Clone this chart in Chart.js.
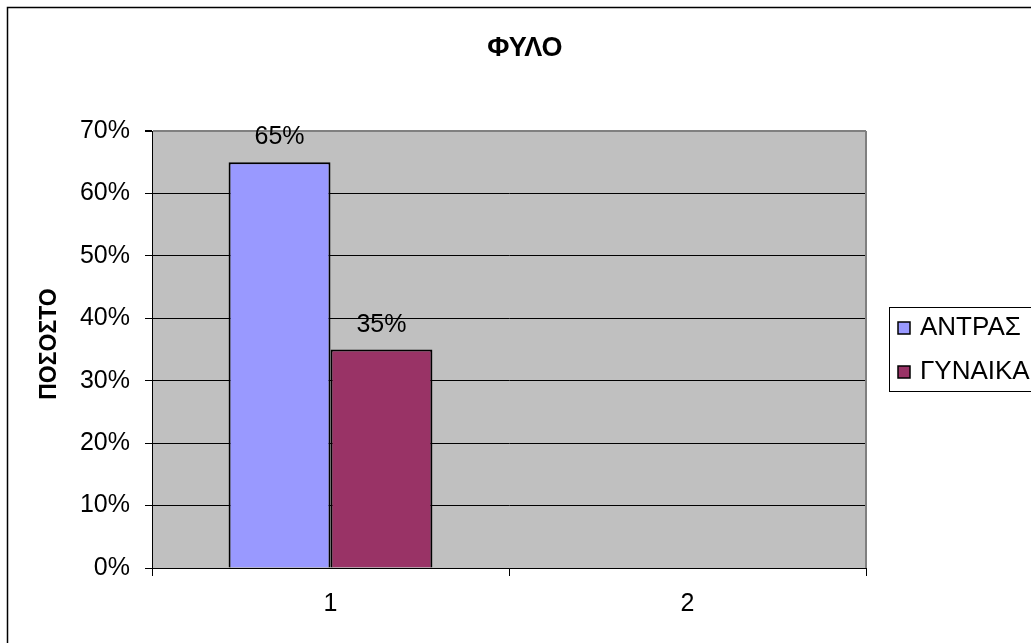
<!DOCTYPE html>
<html>
<head>
<meta charset="utf-8">
<script src="https://cdn.jsdelivr.net/npm/chart.js@4"></script>
<style>
  body { margin: 0; background: #fff; }
  #wrap { width: 1031px; height: 643px; }
</style>
</head>
<body>
<div id="wrap"><canvas id="myBarChart" width="1031" height="643"></canvas></div>
<script>
var categories = ['1', '2'];
var seriesNames = ['ΑΝΤΡΑΣ', 'ΓΥΝΑΙΚΑ'];
var menValues = [0.65, null];
var womenValues = [0.35, null];
var seriesColors = ['#9999FF', '#993366'];
var chartTitle = 'ΦΥΛΟ';
var yTitle = 'ΠΟΣΟΣΤΟ';

Chart.defaults.font.family = '"Liberation Sans", Arial, sans-serif';
Chart.defaults.color = '#000';

function pct(v) {
    return Math.round(v * 100) + '%';
}

// frame, grey plot background, titles, value labels and the boxed legend
var excelLook = {
    id: 'excelLook',
    beforeDraw: function(chart) {
        var ctx = chart.ctx, a = chart.chartArea;
        ctx.save();
        ctx.fillStyle = '#fff';
        ctx.fillRect(0, 0, chart.width, chart.height);
        ctx.fillStyle = '#C0C0C0';
        ctx.fillRect(a.left, a.top, a.right - a.left, a.bottom - a.top);
        ctx.restore();
    },
    afterDraw: function(chart) {
        var ctx = chart.ctx, a = chart.chartArea;
        ctx.save();
        // plot border right side
        ctx.strokeStyle = '#808080';
        ctx.lineWidth = 2;
        ctx.beginPath();
        ctx.moveTo(a.right, a.top);
        ctx.lineTo(a.right, a.bottom);
        ctx.stroke();

        // outer chart frame (runs off the picture right and bottom)
        ctx.strokeStyle = '#000';
        ctx.lineWidth = 1.5;
        ctx.strokeRect(7.5, 7.5, 1200, 1200);

        // titles
        ctx.fillStyle = '#000';
        ctx.font = 'bold 27px "Liberation Sans", Arial, sans-serif';
        ctx.textAlign = 'center';
        ctx.textBaseline = 'alphabetic';
        ctx.fillText(chartTitle, 525, 56);

        ctx.save();
        ctx.translate(56, 344);
        ctx.rotate(-Math.PI / 2);
        ctx.font = 'bold 23px "Liberation Sans", Arial, sans-serif';
        ctx.fillText(yTitle, 0, 0);
        ctx.restore();

        // value labels above bars
        ctx.font = '25px "Liberation Sans", Arial, sans-serif';
        chart.data.datasets.forEach(function(ds, i) {
            chart.getDatasetMeta(i).data.forEach(function(bar, j) {
                if (ds.data[j] == null) return;
                ctx.fillText(pct(ds.data[j]), bar.x, bar.y - 18);
            });
        });

        // legend
        ctx.strokeStyle = '#000';
        ctx.lineWidth = 1;
        ctx.strokeRect(889.5, 307.5, 200, 84);
        ctx.textAlign = 'left';
        ctx.font = '26px "Liberation Sans", Arial, sans-serif';
        chart.data.datasets.forEach(function(ds, i) {
            var y = 322 + i * 44;
            ctx.fillStyle = ds.backgroundColor;
            ctx.fillRect(898, y, 12, 12);
            ctx.lineWidth = 1.5;
            ctx.strokeRect(898, y, 12, 12);
            ctx.fillStyle = '#000';
            ctx.fillText(ds.label, 920, y + 13);
        });
        ctx.restore();
    }
};

var ctx = document.getElementById('myBarChart').getContext('2d');
var myChart = new Chart(ctx, {
    type: 'bar',
    data: {
        labels: categories,
        datasets: [
            {
                label: seriesNames[0],
                data: menValues,
                backgroundColor: seriesColors[0],
                borderColor: '#000',
                borderWidth: 2,
                categoryPercentage: 0.571,
                barPercentage: 1
            },
            {
                label: seriesNames[1],
                data: womenValues,
                backgroundColor: seriesColors[1],
                borderColor: '#000',
                borderWidth: 2,
                categoryPercentage: 0.571,
                barPercentage: 1
            }
        ]
    },
    options: {
        responsive: false,
        animation: false,
        layout: {
            padding: { top: 131, right: 165, left: 0, bottom: 0 }
        },
        plugins: {
            legend: { display: false },
            title: { display: false },
            tooltip: { enabled: false }
        },
        scales: {
            x: {
                afterFit: function(scale) { scale.height = 75; },
                grid: {
                    drawOnChartArea: false,
                    tickLength: 8,
                    tickColor: '#000',
                    color: '#000'
                },
                border: { color: '#000', width: 1 },
                ticks: {
                    font: { size: 25 },
                    padding: 13,
                    maxRotation: 0
                }
            },
            y: {
                min: 0,
                max: 0.7,
                afterFit: function(scale) { scale.width = 152; },
                grid: {
                    color: function(c) {
                        return c.tick && c.tick.value > 0.69 ? '#808080' : '#000';
                    },
                    lineWidth: function(c) {
                        return c.tick && c.tick.value > 0.69 ? 2 : 1;
                    },
                    tickLength: 7,
                    tickColor: '#000'
                },
                border: { color: '#000', width: 1 },
                ticks: {
                    stepSize: 0.1,
                    font: { size: 25 },
                    padding: 15,
                    callback: function(v) { return pct(v); }
                }
            }
        }
    },
    plugins: [excelLook]
});
</script>
</body>
</html>
